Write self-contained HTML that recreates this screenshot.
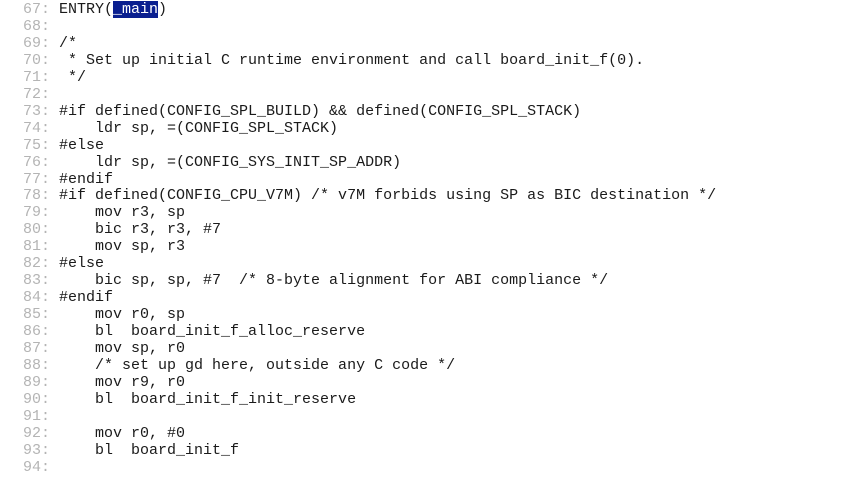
<!DOCTYPE html>
<html><head><meta charset="utf-8"><style>
html,body{margin:0;padding:0;background:#fff;width:865px;height:474px;overflow:hidden}
pre{margin:0;position:absolute;left:23px;top:2px;font-family:"Liberation Mono",monospace;font-size:15px;line-height:16.95px;color:#1a1a1a;letter-spacing:0}
.n{color:#b4b4b4}
.h{background:#0a1f8f;color:#fff}
</style></head><body>
<pre><span class="n">67: </span>ENTRY(<span class="h">_main</span>)
<span class="n">68: </span>
<span class="n">69: </span>/*
<span class="n">70: </span> * Set up initial C runtime environment and call board_init_f(0).
<span class="n">71: </span> */
<span class="n">72: </span>
<span class="n">73: </span>#if defined(CONFIG_SPL_BUILD) &amp;&amp; defined(CONFIG_SPL_STACK)
<span class="n">74: </span>    ldr sp, =(CONFIG_SPL_STACK)
<span class="n">75: </span>#else
<span class="n">76: </span>    ldr sp, =(CONFIG_SYS_INIT_SP_ADDR)
<span class="n">77: </span>#endif
<span class="n">78: </span>#if defined(CONFIG_CPU_V7M) /* v7M forbids using SP as BIC destination */
<span class="n">79: </span>    mov r3, sp
<span class="n">80: </span>    bic r3, r3, #7
<span class="n">81: </span>    mov sp, r3
<span class="n">82: </span>#else
<span class="n">83: </span>    bic sp, sp, #7  /* 8-byte alignment for ABI compliance */
<span class="n">84: </span>#endif
<span class="n">85: </span>    mov r0, sp
<span class="n">86: </span>    bl  board_init_f_alloc_reserve
<span class="n">87: </span>    mov sp, r0
<span class="n">88: </span>    /* set up gd here, outside any C code */
<span class="n">89: </span>    mov r9, r0
<span class="n">90: </span>    bl  board_init_f_init_reserve
<span class="n">91: </span>
<span class="n">92: </span>    mov r0, #0
<span class="n">93: </span>    bl  board_init_f
<span class="n">94: </span></pre>
</body></html>
